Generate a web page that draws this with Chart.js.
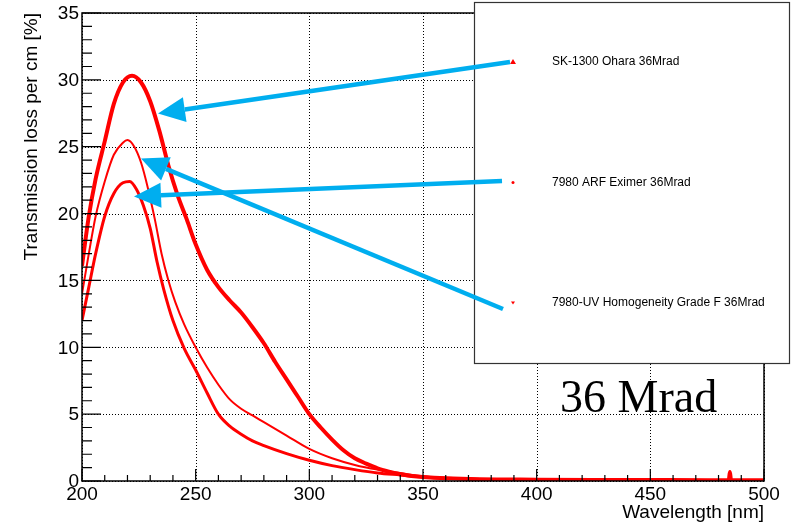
<!DOCTYPE html>
<html>
<head>
<meta charset="utf-8">
<script src="https://cdn.jsdelivr.net/npm/chart.js@4/dist/chart.umd.min.js"></script>
<style>
  html, body { margin: 0; padding: 0; background: #fff; }
  #wrap { width: 802px; height: 527px; }
</style>
</head>
<body>
<div id="wrap"><canvas id="chart" width="802" height="527"></canvas></div>
<script>
// wavelength [nm] and transmission loss [%]
const ohWl = [200,203,206,210,214,218,222,226,230,234,238,242,246,250,255,260,265,270,275,280,285,290,295,300,305,310,315,320,325,330,335,340,345,350,360,375,400,425,450,475,484.5,485,485.5,500];
const ohLoss = [16.1,19.8,22.6,25.4,28.2,29.8,30.3,29.8,28.4,26.2,23.6,21.4,19.6,17.7,15.8,14.5,13.5,12.6,11.5,10.3,8.9,7.6,6.3,5.0,4.0,3.1,2.3,1.7,1.3,0.95,0.7,0.5,0.38,0.3,0.2,0.13,0.1,0.08,0.07,0.06,0.06,0.67,0.06,0.05];

const arfWl = [200,203,206,210,214,218,221,224,227,230,233,236,240,245,250,255,260,265,270,275,280,290,300,310,320,330,340,350,360,375,400,450,500];
const arfLoss = [12.0,14.5,17.0,19.8,21.5,22.3,22.4,21.8,20.6,18.9,16.4,14.3,12.0,9.9,8.3,6.6,5.0,4.1,3.5,3.0,2.65,2.05,1.55,1.15,0.85,0.6,0.45,0.3,0.2,0.12,0.08,0.05,0.04];

const uvWl = [200,203,206,210,214,218,220,223,226,229,232,235,238,241,245,250,255,260,265,270,275,280,290,300,310,320,330,340,350,360,375,400,450,500];
const uvLoss = [14.0,17.0,19.8,22.4,24.4,25.3,25.5,25.0,23.8,21.9,19.6,17.0,15.0,13.4,11.7,10.0,8.5,7.2,6.1,5.4,4.9,4.4,3.4,2.4,1.7,1.2,0.85,0.6,0.35,0.22,0.13,0.09,0.06,0.05];

const seriesLabels = ["SK-1300 Ohara 36Mrad", "7980 ARF Eximer 36Mrad", "7980-UV Homogeneity Grade F 36Mrad"];
const xTicks = [200, 250, 300, 350, 400, 450, 500];
const yTicks = [0, 5, 10, 15, 20, 25, 30, 35];
const xTitle = "Wavelength [nm]";
const yTitle = "Transmission loss per cm [%]";
const doseLabel = "36 Mrad";

const RED = "#ff0000";
const BLUE = "#00aeef";
const SANS = "'Liberation Sans', Arial, Helvetica, sans-serif";

function pts(xs, ys) { return xs.map((x, i) => ({ x: x, y: ys[i] })); }

const frame = {
    id: "frame",
    beforeDatasetsDraw(chart) {
        const { ctx, chartArea: a, scales: { x, y } } = chart;
        ctx.save();
        ctx.strokeStyle = "#000";
        ctx.lineWidth = 1;
        ctx.setLineDash([1, 2]);
        ctx.beginPath();
        xTicks.forEach(v => { const px = Math.round(x.getPixelForValue(v)) + 0.5; ctx.moveTo(px, a.top); ctx.lineTo(px, a.bottom); });
        yTicks.forEach(v => { const py = Math.round(y.getPixelForValue(v)) + 0.5; ctx.moveTo(a.left, py); ctx.lineTo(a.right, py); });
        ctx.stroke();
        ctx.restore();
    },
    afterDatasetsDraw(chart) {
        const { ctx, chartArea: a, scales: { x, y } } = chart;
        ctx.save();
        ctx.strokeStyle = "#000";
        ctx.lineWidth = 1.5;
        ctx.strokeRect(a.left, a.top, a.right - a.left, a.bottom - a.top);
        ctx.lineWidth = 1.2;
        ctx.beginPath();
        for (let v = xTicks[0]; v <= xTicks[xTicks.length - 1]; v += 10) {
            const px = x.getPixelForValue(v);
            const len = xTicks.includes(v) ? 12 : 6;
            ctx.moveTo(px, a.bottom); ctx.lineTo(px, a.bottom - len);
        }
        for (let v = yTicks[0]; v <= yTicks[yTicks.length - 1]; v += 1) {
            const py = y.getPixelForValue(v);
            const len = yTicks.includes(v) ? 19 : 10;
            ctx.moveTo(a.left, py); ctx.lineTo(a.left + len, py);
        }
        ctx.stroke();

        ctx.fillStyle = "#000";
        ctx.font = "19px " + SANS;
        ctx.textAlign = "center";
        ctx.textBaseline = "middle";
        xTicks.forEach(v => ctx.fillText(String(v), x.getPixelForValue(v), a.bottom + 14));
        ctx.textAlign = "right";
        yTicks.forEach(v => ctx.fillText(String(v), a.left - 3, y.getPixelForValue(v) + 1));

        ctx.textAlign = "right";
        ctx.fillText(xTitle, a.right, 513);
        ctx.save();
        ctx.translate(32, a.top);
        ctx.rotate(-Math.PI / 2);
        ctx.fillText(yTitle, 0, 0);
        ctx.restore();
        ctx.restore();
    },
    afterDraw(chart) {
        const { ctx } = chart;
        ctx.save();
        // dose label
        ctx.fillStyle = "#000";
        ctx.font = "46px 'Liberation Serif', 'Times New Roman', serif";
        ctx.textAlign = "left";
        ctx.textBaseline = "alphabetic";
        ctx.fillText(doseLabel, 560, 412);

        // legend box
        const lx = 474, ly = 2, lw = 315, lh = 361;
        ctx.fillStyle = "#fff";
        ctx.fillRect(lx, ly, lw, lh);
        ctx.strokeStyle = "#333";
        ctx.lineWidth = 1.2;
        ctx.strokeRect(lx + 0.5, ly + 0.5, lw, lh);
        const rows = [62, 182.5, 303];
        ctx.font = "12px " + SANS;
        ctx.textBaseline = "middle";
        rows.forEach((ry, i) => {
            ctx.fillStyle = "#000";
            ctx.fillText(seriesLabels[i], 552, ry);
            ctx.fillStyle = RED;
            ctx.beginPath();
            if (i === 0) { ctx.moveTo(513, ry - 3); ctx.lineTo(516, ry + 2); ctx.lineTo(510, ry + 2); }
            else if (i === 1) { ctx.arc(513, ry, 1.5, 0, Math.PI * 2); }
            else { ctx.moveTo(511, ry - 1.5); ctx.lineTo(515, ry - 1.5); ctx.lineTo(513, ry + 1.5); }
            ctx.closePath();
            ctx.fill();
        });

        // arrows from legend entries to curves
        const arrows = [[510, 62, 158, 113.5], [502, 181, 134, 196.5], [503, 309, 141, 158.5]];
        arrows.forEach(([x0, y0, x1, y1]) => {
            const ang = Math.atan2(y1 - y0, x1 - x0);
            const hl = 27, hw = 12.5;
            const bx = x1 - hl * Math.cos(ang), by = y1 - hl * Math.sin(ang);
            ctx.strokeStyle = BLUE;
            ctx.lineWidth = 4.5;
            ctx.beginPath();
            ctx.moveTo(x0, y0);
            ctx.lineTo(bx, by);
            ctx.stroke();
            ctx.fillStyle = BLUE;
            ctx.beginPath();
            ctx.moveTo(x1, y1);
            ctx.lineTo(bx + hw * Math.sin(ang), by - hw * Math.cos(ang));
            ctx.lineTo(bx - hw * Math.sin(ang), by + hw * Math.cos(ang));
            ctx.closePath();
            ctx.fill();
        });
        ctx.restore();
    }
};

new Chart(document.getElementById("chart"), {
    type: "line",
    data: {
        datasets: [
            { label: seriesLabels[0], data: pts(ohWl, ohLoss), borderColor: RED, borderWidth: 4 },
            { label: seriesLabels[1], data: pts(arfWl, arfLoss), borderColor: RED, borderWidth: 3 },
            { label: seriesLabels[2], data: pts(uvWl, uvLoss), borderColor: RED, borderWidth: 2 }
        ]
    },
    options: {
        responsive: false,
        animation: false,
        events: [],
        layout: { padding: { left: 82, top: 13, right: 38, bottom: 46 } },
        elements: { point: { radius: 0 }, line: { cubicInterpolationMode: "monotone", fill: false } },
        plugins: { legend: { display: false }, tooltip: { enabled: false } },
        scales: {
            x: { type: "linear", min: 200, max: 500, display: false },
            y: { type: "linear", min: 0, max: 35, display: false }
        }
    },
    plugins: [frame]
});
</script>
</body>
</html>
